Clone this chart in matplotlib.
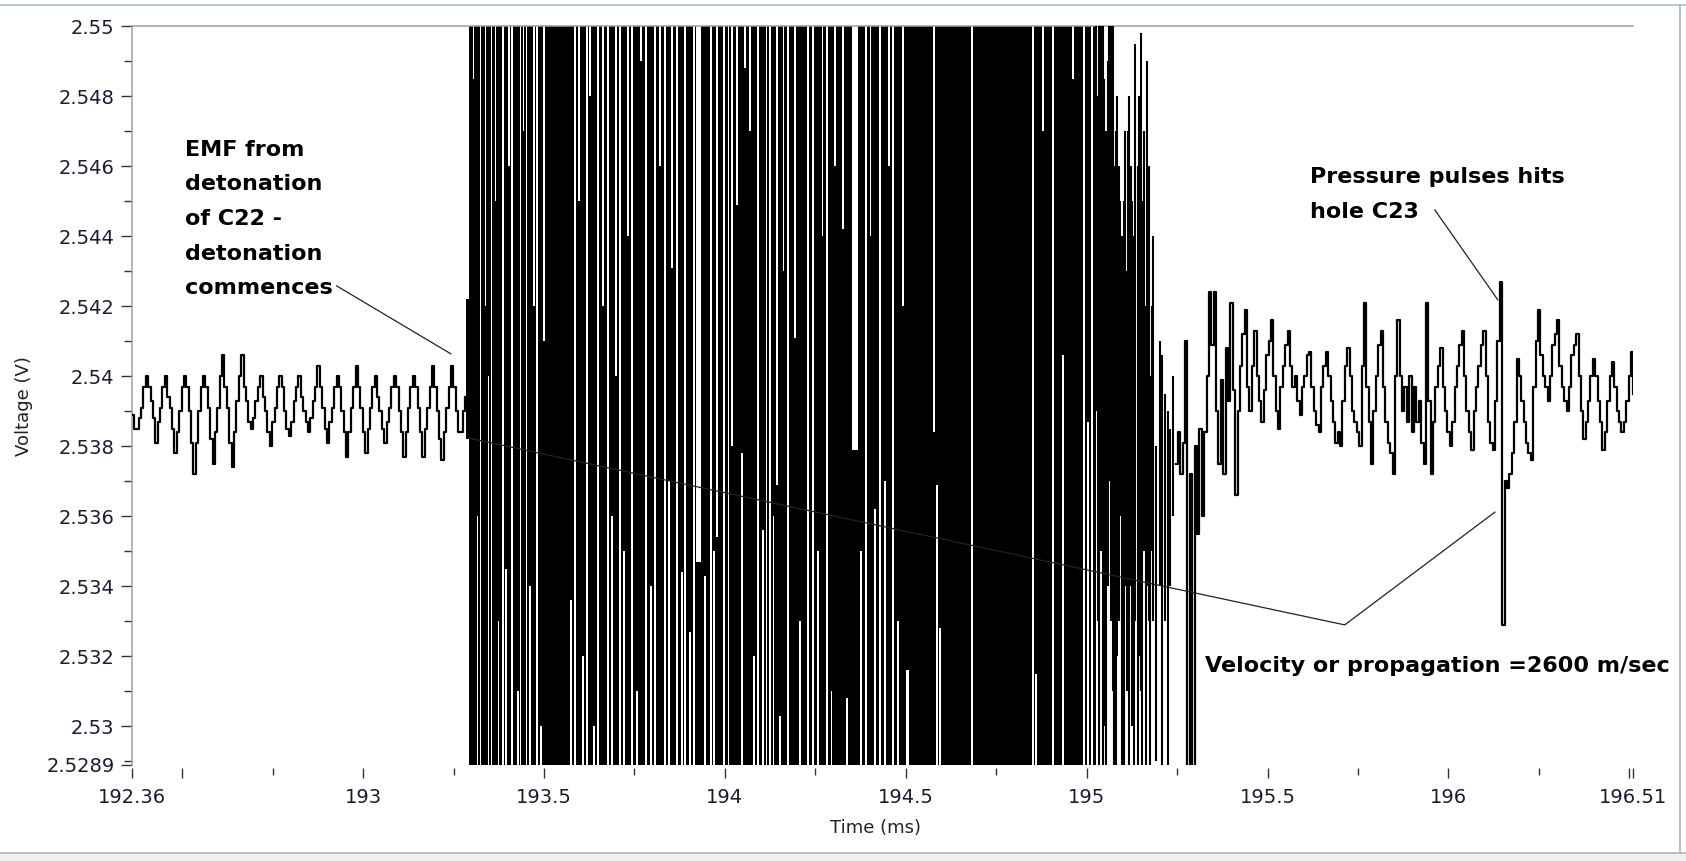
import numpy as np
import matplotlib
matplotlib.use("Agg")
import matplotlib.pyplot as plt
from matplotlib.lines import Line2D
from matplotlib.patches import Rectangle

# ------------------------------------------------------------------ data
T_START, T_END = 192.36, 196.51          # time axis (ms)
V_MIN, V_MAX = 2.5289, 2.55              # voltage axis (V)
DT = 0.00659                             # sample interval (ms)

# --- pre-detonation trace (starts at 192.36 ms)
pre_t0 = 192.36
pre_v = [
    2.5389, 2.5385,
    2.5385, 2.5388, 2.5391, 2.5397, 2.5400, 2.5397, 2.5393, 2.5388,
    2.5381, 2.5387, 2.5391, 2.5397, 2.5400, 2.5394, 2.5391, 2.5385,
    2.5378, 2.5384, 2.5390, 2.5397, 2.5400, 2.5397, 2.5390, 2.5381,
    2.5372, 2.5381, 2.5390, 2.5397, 2.5400, 2.5397, 2.5391, 2.5382,
    2.5375, 2.5384, 2.5391, 2.5400, 2.5406, 2.5397, 2.5391, 2.5381,
    2.5374, 2.5384, 2.5393, 2.5400, 2.5406, 2.5397, 2.5393, 2.5387,
    2.5385, 2.5388, 2.5393, 2.5397, 2.5400, 2.5394, 2.5390, 2.5384,
    2.5380, 2.5387, 2.5391, 2.5397, 2.5400, 2.5397, 2.5390, 2.5385,
    2.5383, 2.5387, 2.5393, 2.5397, 2.5400, 2.5394, 2.5390, 2.5387,
    2.5384, 2.5388, 2.5393, 2.5397, 2.5403, 2.5397, 2.5391, 2.5385,
    2.5381, 2.5387, 2.5391, 2.5397, 2.5400, 2.5397, 2.5390, 2.5384,
    2.5377, 2.5384, 2.5391, 2.5397, 2.5403, 2.5397, 2.5391, 2.5384,
    2.5378, 2.5385, 2.5391, 2.5397, 2.5400, 2.5394, 2.5390, 2.5385,
    2.5381, 2.5387, 2.5391, 2.5397, 2.5400, 2.5397, 2.5390, 2.5384,
    2.5377, 2.5384, 2.5391, 2.5397, 2.5400, 2.5397, 2.5391, 2.5384,
    2.5377, 2.5385, 2.5391, 2.5397, 2.5403, 2.5397, 2.5390, 2.5382,
    2.5376, 2.5384, 2.5391, 2.5397, 2.5403, 2.5397, 2.5390, 2.5384,
    2.5384, 2.5390, 2.5394,
]

# --- detonation burst: saturated signal, kept as a min/max envelope
BOT, TOP = 2.5200, 2.5600                # clipped levels (outside the axis)
burst_start, burst_end = 193.2840, 195.0270
# columns where the envelope is not full scale: start (ms), width (ms), min, max
gap_t = [193.2840, 193.3034, 193.3145, 193.3228, 193.3366, 193.3449, 193.3532,
         193.3643, 193.3726, 193.3837, 193.3920, 193.4003, 193.4086, 193.4169,
         193.4252, 193.4334, 193.4417, 193.4500, 193.4584, 193.4694, 193.4777,
         193.4888, 193.4971, 193.5718, 193.5829, 193.5939, 193.6050, 193.6161,
         193.6244, 193.6354, 193.6465, 193.6603, 193.6742, 193.6852, 193.6963,
         193.7074, 193.7184, 193.7295, 193.7406, 193.7544, 193.7654, 193.7793,
         193.7931, 193.8042, 193.8180, 193.8319, 193.8429, 193.8512, 193.8651,
         193.8789, 193.8872, 193.9010, 193.9121, 193.9204, 193.9425, 193.9591,
         193.9680, 193.9757, 193.9951, 194.0080, 194.0172, 194.0311, 194.0449,
         194.0532, 194.0670, 194.0780, 194.0892, 194.1030, 194.1130, 194.1224,
         194.1320, 194.1417, 194.1500, 194.1600, 194.1722, 194.1915, 194.2050,
         194.2275, 194.2420, 194.2551, 194.2680, 194.2800, 194.2920, 194.3022,
         194.3243, 194.3354, 194.3520, 194.3740, 194.3879, 194.4000, 194.4128,
         194.4260, 194.4405, 194.4510, 194.4626, 194.4760, 194.4903, 194.5014,
         194.5761, 194.5844, 194.5927, 194.6812, 194.8500, 194.8583, 194.8776,
         194.9053, 194.9330, 194.9607, 194.9911, 195.0021, 195.0132]
gap_w = [0.0083, 0.0045, 0.0045, 0.0045, 0.0045, 0.0045, 0.0045,
         0.0045, 0.0045, 0.0045, 0.0045, 0.0045, 0.0045, 0.0045,
         0.0045, 0.0045, 0.0045, 0.0045, 0.0045, 0.0045, 0.0045,
         0.0045, 0.0045, 0.0045, 0.0045, 0.0045, 0.0045, 0.0045,
         0.0045, 0.0045, 0.0045, 0.0045, 0.0045, 0.0045, 0.0045,
         0.0045, 0.0045, 0.0045, 0.0045, 0.0045, 0.0045, 0.0045,
         0.0045, 0.0045, 0.0045, 0.0045, 0.0045, 0.0045, 0.0045,
         0.0045, 0.0045, 0.0045, 0.0045, 0.0138, 0.0045, 0.0045,
         0.0045, 0.0045, 0.0045, 0.0045, 0.0045, 0.0045, 0.0045,
         0.0045, 0.0045, 0.0045, 0.0045, 0.0045, 0.0045, 0.0045,
         0.0045, 0.0045, 0.0045, 0.0045, 0.0045, 0.0045, 0.0045,
         0.0045, 0.0045, 0.0045, 0.0045, 0.0045, 0.0045, 0.0045,
         0.0045, 0.0045, 0.0166, 0.0045, 0.0045, 0.0045, 0.0045,
         0.0045, 0.0045, 0.0045, 0.0045, 0.0045, 0.0045, 0.0083,
         0.0045, 0.0045, 0.0045, 0.0045, 0.0045, 0.0045, 0.0045,
         0.0045, 0.0045, 0.0045, 0.0045, 0.0045, 0.0045]
gap_lo = [2.5382, BOT, 2.5360, TOP, BOT, 2.5400, TOP,
          BOT, 2.5330, TOP, 2.5345, BOT, TOP, BOT,
          2.5310, TOP, BOT, TOP, 2.5340, BOT, TOP,
          2.5300, BOT, 2.5336, TOP, BOT, 2.5320, TOP,
          BOT, 2.5300, TOP, BOT, TOP, 2.5360, BOT,
          TOP, 2.5350, BOT, TOP, 2.5310, BOT, TOP,
          2.5340, TOP, BOT, TOP, 2.5370, BOT, TOP,
          2.5344, TOP, 2.5327, TOP, BOT, 2.5343, TOP,
          2.5350, BOT, TOP, TOP, BOT, BOT, 2.5378,
          BOT, BOT, 2.5320, TOP, 2.5356, TOP, TOP,
          2.5360, BOT, 2.5303, BOT, TOP, BOT, 2.5330,
          TOP, TOP, 2.5350, BOT, TOP, 2.5310, BOT,
          BOT, 2.5308, BOT, 2.5350, TOP, BOT, 2.5362,
          TOP, 2.5370, BOT, TOP, 2.5330, BOT, 2.5316,
          BOT, 2.5369, 2.5328, TOP, TOP, 2.5315, BOT,
          TOP, 2.5406, BOT, TOP, 2.5387, TOP]
gap_hi = [2.5422, 2.5485, TOP, TOP, 2.5420, TOP, TOP,
          2.5450, TOP, TOP, TOP, 2.5460, TOP, 2.5500,
          TOP, TOP, 2.5470, TOP, TOP, 2.5420, TOP,
          TOP, 2.5410, TOP, TOP, 2.5450, TOP, TOP,
          2.5480, TOP, TOP, 2.5420, TOP, TOP, 2.5400,
          TOP, TOP, 2.5440, TOP, TOP, 2.5490, TOP,
          TOP, TOP, 2.5460, TOP, TOP, 2.5431, TOP,
          TOP, TOP, TOP, TOP, 2.5347, TOP, TOP,
          TOP, 2.5354, TOP, TOP, 2.5380, 2.5449, TOP,
          2.5488, 2.5470, TOP, TOP, TOP, TOP, TOP,
          TOP, 2.5369, TOP, 2.5430, TOP, 2.5411, TOP,
          TOP, TOP, TOP, 2.5440, TOP, TOP, 2.5460,
          2.5442, TOP, 2.5379, TOP, TOP, 2.5440, TOP,
          TOP, TOP, 2.5460, TOP, TOP, 2.5420, TOP,
          2.5384, TOP, TOP, TOP, TOP, TOP, 2.5470,
          TOP, TOP, 2.5485, TOP, TOP, TOP]

# --- decaying tail of the burst: individual swings (time, min, max)
tail_t = [195.0270, 195.0310, 195.0353, 195.0409, 195.0450, 195.0492, 195.0547,
          195.0590, 195.0630, 195.0685, 195.0725, 195.0768, 195.0810, 195.0851,
          195.0890, 195.0934, 195.0990, 195.1030, 195.1073, 195.1128, 195.1155,
          195.1183, 195.1225, 195.1266, 195.1310, 195.1349, 195.1405, 195.1450,
          195.1488, 195.1530, 195.1571, 195.1626, 195.1681, 195.1720, 195.1764,
          195.1805, 195.1847, 195.1930, 195.2013, 195.2069, 195.2152, 195.2235,
          195.2290, 195.2373]
tail_lo = [2.5390, 2.5330, BOT, 2.5350, BOT, 2.5300, BOT,
           2.5340, 2.5370, 2.5330, 2.5310, BOT, BOT, 2.5320,
           2.5330, 2.5360, BOT, BOT, 2.5340, 2.5310, 2.5320,
           BOT, 2.5340, 2.5300, BOT, 2.5330, BOT, 2.5320,
           2.5310, BOT, 2.5350, BOT, 2.5340, 2.5330, BOT,
           2.5350, 2.5330, 2.5290, 2.5340, BOT, 2.5330, BOT,
           2.5340, 2.5360]
tail_hi = [TOP, 2.5480, TOP, TOP, TOP, 2.5485, 2.5470,
           2.5490, TOP, 2.5500, TOP, 2.5460, 2.5470, 2.5480,
           2.5460, 2.5450, 2.5440, 2.5450, 2.5470, 2.5430, 2.5470,
           2.5480, 2.5460, 2.5450, 2.5440, 2.5495, 2.5460, 2.5480,
           2.5498, 2.5450, 2.5470, 2.5420, 2.5490, 2.5460, 2.5400,
           2.5420, 2.5440, 2.5380, 2.5410, 2.5406, 2.5395, 2.5390,
           2.5385, 2.5400]

# --- post-detonation trace
post_t0 = 195.2457
post_v = [
    2.5375, 2.5384, 2.5372, 2.5381, 2.5410, 2.5200, 2.5372, 2.5200, 2.5380, 2.5355,
    2.5385, 2.5360, 2.5384, 2.5400, 2.5424, 2.5409, 2.5424, 2.5390, 2.5375, 2.5399,
    2.5372, 2.5408, 2.5393, 2.5421, 2.5396, 2.5366, 2.5390, 2.5403, 2.5412, 2.5419,
    2.5397, 2.5390, 2.5403, 2.5413, 2.5400, 2.5393, 2.5387, 2.5396, 2.5406, 2.5410,
    2.5416, 2.5400, 2.5390, 2.5385, 2.5397, 2.5403, 2.5409, 2.5413, 2.5403, 2.5397,
    2.5400, 2.5393, 2.5389, 2.5397, 2.5400, 2.5406, 2.5407, 2.5397, 2.5390, 2.5386,
    2.5384, 2.5397, 2.5403, 2.5407, 2.5400, 2.5393, 2.5387, 2.5381, 2.5384, 2.5380,
    2.5393, 2.5403, 2.5408, 2.5400, 2.5390, 2.5387, 2.5384, 2.5380, 2.5403, 2.5421,
    2.5397, 2.5387, 2.5375, 2.5390, 2.5400, 2.5409, 2.5413, 2.5397, 2.5387, 2.5381,
    2.5378, 2.5372, 2.5400, 2.5416, 2.5400, 2.5390, 2.5397, 2.5387, 2.5400, 2.5384,
    2.5397, 2.5387, 2.5393, 2.5381, 2.5375, 2.5421, 2.5393, 2.5372, 2.5387, 2.5397,
    2.5403, 2.5408, 2.5397, 2.5390, 2.5384, 2.5380, 2.5387, 2.5397, 2.5403, 2.5409,
    2.5413, 2.5400, 2.5390, 2.5384, 2.5379, 2.5390, 2.5397, 2.5403, 2.5409, 2.5413,
    2.5400, 2.5387, 2.5381, 2.5379, 2.5393, 2.5410, 2.5427, 2.5329, 2.5370, 2.5368,
    2.5372, 2.5378, 2.5387, 2.5405, 2.5400, 2.5393, 2.5387, 2.5381, 2.5378, 2.5376,
    2.5397, 2.5410, 2.5419, 2.5406, 2.5400, 2.5397, 2.5393, 2.5400, 2.5409, 2.5412,
    2.5416, 2.5403, 2.5397, 2.5393, 2.5390, 2.5397, 2.5406, 2.5409, 2.5412, 2.5400,
    2.5390, 2.5382, 2.5387, 2.5393, 2.5400, 2.5405, 2.5400, 2.5393, 2.5387, 2.5379,
    2.5384, 2.5393, 2.5400, 2.5404, 2.5397, 2.5390, 2.5387, 2.5384, 2.5387, 2.5393,
    2.5400, 2.5407, 2.5395,
]

# --- axis ticks
x_major = [192.36, 192.5, 193, 193.5, 194, 194.5, 195, 195.5, 196, 196.5, 196.51]
x_labels = ["192.36", "", "193", "193.5", "194", "194.5", "195", "195.5", "196", "", "196.51"]
x_minor = [192.75, 193.25, 193.75, 194.25, 194.75, 195.25, 195.75, 196.25]
y_major = [2.5289, 2.53, 2.532, 2.534, 2.536, 2.538, 2.54, 2.542, 2.544, 2.546, 2.548, 2.55]
y_labels = ["2.5289", "2.53", "2.532", "2.534", "2.536", "2.538", "2.54", "2.542",
            "2.544", "2.546", "2.548", "2.55"]
y_minor = [2.529, 2.531, 2.533, 2.535, 2.537, 2.539, 2.541, 2.543, 2.545, 2.547, 2.549]

# --- annotations
emf_lines = ["EMF from", "detonation", "of C22 -", "detonation", "commences"]
c23_lines = ["Pressure pulses hits", "hole C23"]
vel_text = "Velocity or propagation =2600 m/sec"
emf_pointer = ([192.927, 193.2426], [2.54258, 2.54064])
c23_pointer = ([195.9622, 196.1365], [2.54475, 2.54218])
vel_pointer = ([193.2896, 195.7132, 196.1282], [2.53824, 2.53290, 2.53612])

# ------------------------------------------------------------------ figure
W, H = 1686, 861
fig = plt.figure(figsize=(W / 100, H / 100), dpi=100)
fig.patch.set_facecolor("white")

def fx(x):
    return x / W

def fy(y):
    return 1 - y / H

ax = fig.add_axes([fx(131.5), fy(765), (1633 - 131.5) / W, (765 - 26) / H])
ax.set_xlim(T_START, T_END)
ax.set_ylim(V_MIN, V_MAX)

LW = 1.6
pre_t = pre_t0 + DT * np.arange(len(pre_v))
ax.step(pre_t, pre_v, where="post", color="black", lw=LW, zorder=3)

# burst envelope
seg_t, seg_lo, seg_hi = [], [], []
cur = burst_start
for t, w, lo, hi in zip(gap_t, gap_w, gap_lo, gap_hi):
    if t > cur + 1e-6:
        seg_t.append(cur); seg_lo.append(BOT); seg_hi.append(TOP)
    seg_t.append(t); seg_lo.append(lo); seg_hi.append(hi)
    cur = t + w
seg_t.append(cur); seg_lo.append(BOT); seg_hi.append(TOP)
seg_t.append(burst_end); seg_lo.append(BOT); seg_hi.append(TOP)
ax.fill_between(seg_t, seg_lo, seg_hi, step="post", color="black", lw=0, zorder=2)

ax.vlines(tail_t, tail_lo, tail_hi, color="black", lw=1.5, zorder=3)

post_t = post_t0 + DT * np.arange(len(post_v))
ax.step(post_t, post_v, where="post", color="black", lw=LW, zorder=3)

# annotation pointers
for xs, ys in (emf_pointer, c23_pointer, vel_pointer):
    ax.plot(xs, ys, color="#222222", lw=0.9, zorder=6, clip_on=False)

# spines / ticks
for s in ("right", "bottom"):
    ax.spines[s].set_visible(False)
for s in ("left", "top"):
    ax.spines[s].set_color("#a0a0a0")
    ax.spines[s].set_linewidth(1.1)
ax.spines["bottom"].set_position(("outward", 2.2))

ax.set_xticks(x_major)
ax.set_xticklabels(x_labels)
ax.set_xticks(x_minor, minor=True)
ax.set_yticks(y_major)
ax.set_yticklabels(y_labels)
ax.set_yticks(y_minor, minor=True)

tick_col = "#333333"
lab_col = "#1c1c30"
ax.tick_params(axis="x", which="major", direction="out", length=7.2, width=1.0,
               color=tick_col, pad=7, labelsize=14, labelcolor=lab_col)
ax.tick_params(axis="x", which="minor", direction="out", length=5.0, width=1.0,
               color=tick_col)
ax.tick_params(axis="y", which="major", direction="out", length=7.9, width=1.0,
               color=tick_col, pad=4.3, labelsize=14, labelcolor=lab_col)
ax.tick_params(axis="y", which="minor", direction="out", length=5.8, width=1.0,
               color=tick_col)

ax.set_xlabel("Time (ms)", fontsize=13, color="#222222", va="center")
ax.xaxis.set_label_coords((876 - 131.5) / 1501.5, -(828 - 765) / 739)
ax.set_ylabel("Voltage (V)", fontsize=13, color="#222222", va="center", ha="center")
ax.yaxis.set_label_coords((24 - 131.5) / 1501.5, (765 - 406) / 739)

# annotation texts
tf = dict(fontsize=16, fontweight="bold", color="black", family="DejaVu Sans",
          va="baseline", ha="left")
for i, line in enumerate(emf_lines):
    fig.text(fx(185), fy(156 + 34.5 * i), line, **tf)
for i, line in enumerate(c23_lines):
    fig.text(fx(1310), fy(183 + 35 * i), line, **tf)
fig.text(fx(1205), fy(672), vel_text, **tf)

# window frame
fig.add_artist(Line2D([0, 1], [fy(5), fy(5)], color="#a9bfdc", lw=1.2))
fig.add_artist(Rectangle((0, 0), 1, 8 / H, facecolor="#f0f0f0", edgecolor="none"))
fig.add_artist(Line2D([0, 1], [fy(853), fy(853)], color="#b4b4b4", lw=1.2))
fig.add_artist(Line2D([fx(1680), fx(1680)], [fy(853), fy(5)], color="#b4b4b4", lw=1.2))

fig.savefig("out.png", dpi=100)
